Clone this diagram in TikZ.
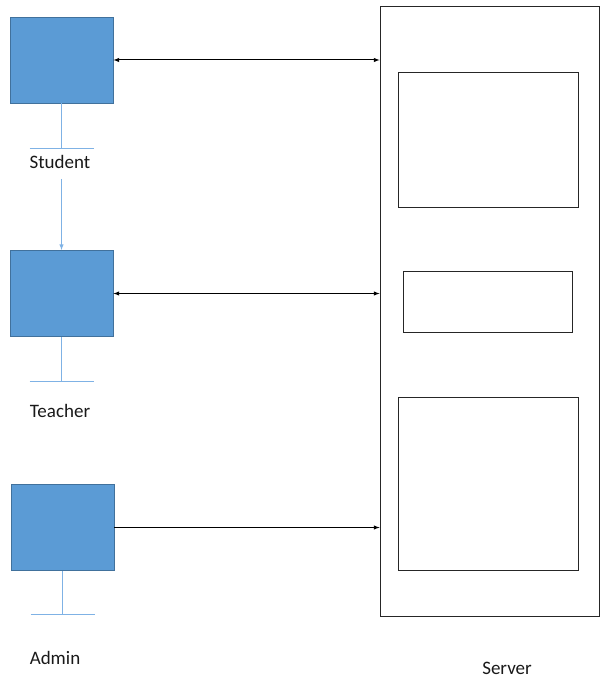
\documentclass[tikz,border=0pt]{standalone}
\usepackage{fontspec}
\setmainfont{Carlito}
\usepackage{tikz}
\usetikzlibrary{positioning}
\definecolor{userblue}{HTML}{5B9BD5}
\definecolor{userborder}{HTML}{41719C}
\definecolor{stemblue}{HTML}{7FB2E5}
\tikzstyle{userbox} = [draw=userborder, fill=userblue, thick, rectangle, minimum width=103pt, minimum height=86pt, inner sep=0pt]
\tikzstyle{plainbox} = [draw=black!85, thick, rectangle, inner sep=0pt]
\tikzstyle{stem} = [draw=stemblue, line width=1pt]
\tikzstyle{link} = [draw=black, line width=1pt, >=latex]
\tikzstyle{lbl} = [font=\fontsize{19}{21}\selectfont, text=black!90, inner sep=1pt]

\begin{document}
\begin{tikzpicture}[x=1pt, y=-1pt]
\useasboundingbox (0,0) rectangle (605,679);
% clients
\node [userbox] (student) at (61.5,60) {};
\node [userbox] (teacher) at (61.5,293.5) {};
\node [userbox] (admin) at (62.5,527.5) {};
\draw [stem] (student.south) -- ++(0,45) coordinate (studentbar);
\draw [stem] ([xshift=-32pt]studentbar) -- ([xshift=32pt]studentbar);
\draw [stem] (teacher.south) -- ++(0,45) coordinate (teacherbar);
\draw [stem] ([xshift=-32pt]teacherbar) -- ([xshift=32pt]teacherbar);
\draw [stem] (admin.south) -- ++(0,44) coordinate (adminbar);
\draw [stem] ([xshift=-32pt]adminbar) -- ([xshift=32pt]adminbar);
\node [lbl] (studentlbl) at (60,162) {Student};
\node [lbl] (teacherlbl) at (60,411) {Teacher};
\node [lbl] (adminlbl) at (55,658) {Admin};
\draw [stem, ->, >=latex] ([yshift=-9pt]teacher.north |- studentlbl.south) -- (teacher.north);
% server
\node [plainbox, minimum width=219pt, minimum height=610pt] (server) at (489.5,311) {};
\node [plainbox, minimum width=180pt, minimum height=135pt] (box1) at (488,139.5) {};
\node [plainbox, minimum width=169pt, minimum height=61pt] (box2) at (487.5,301.5) {};
\node [plainbox, minimum width=180pt, minimum height=173pt] (box3) at (488,483.5) {};
\node [lbl] (serverlbl) at (507,668) {Server};
% links
\draw [link, <->] (student.east) -- (server.west |- student.east);
\draw [link, <->] (teacher.east) -- (server.west |- teacher.east);
\draw [link, ->] (admin.east) -- (server.west |- admin.east);
\end{tikzpicture}
\end{document}
